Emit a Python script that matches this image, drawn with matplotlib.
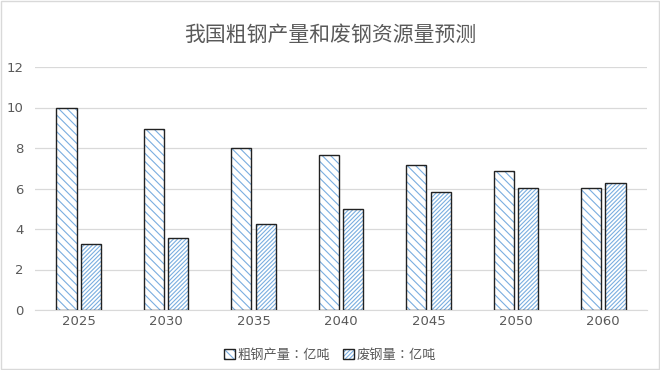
import matplotlib.pyplot as plt
import numpy as np
from matplotlib.patches import Patch

plt.rcParams['font.family'] = ['DejaVu Sans', 'Noto Sans CJK SC']
plt.rcParams['hatch.linewidth'] = 0.8

years = ['2025', '2030', '2035', '2040', '2045', '2050', '2060']
crude = [10.0, 8.95, 8.0, 7.65, 7.17, 6.87, 6.02]
scrap = [3.26, 3.56, 4.25, 5.0, 5.83, 6.02, 6.27]
labels = ['粗钢产量：亿吨', '废钢量：亿吨']

hatch_col = '#7aaee0'
x = np.arange(len(years))
w = 0.23
off = 0.14

fig = plt.figure(figsize=(6.6, 3.7), dpi=100)
ax = fig.add_axes([35/660, 1-310/370, 612/660, 243/370])

for vals, sign, h in [(crude, -1, '\\\\\\\\'), (scrap, 1, '////////')]:
    ax.bar(x + sign*off, vals, w, color='white', edgecolor=hatch_col,
           hatch=h, linewidth=0, zorder=2)
    ax.bar(x + sign*off, vals, w, fill=False, edgecolor='#222222',
           linewidth=1.0, zorder=3)

ax.set_xlim(-0.5, len(years) - 0.5)
ax.set_ylim(0, 12)
ax.set_yticks(range(0, 13, 2))
ax.set_xticks(x)
ax.set_xticklabels(years)
ax.grid(axis='y', color='#d9d9d9', linewidth=0.9, zorder=0)
ax.set_axisbelow(True)
for s in ['top', 'right', 'left']:
    ax.spines[s].set_visible(False)
ax.spines['bottom'].set_color('#d9d9d9')
ax.tick_params(length=0, colors='#595959', labelsize=9.5)
ax.tick_params(axis='y', pad=8)

fig.suptitle('我国粗钢产量和废钢资源量预测', x=0.5, y=0.935, fontsize=15,
             color='#595959', family=['Noto Sans CJK SC', 'DejaVu Sans'])

handles = []
for h in ['\\\\\\\\', '////////']:
    p1 = Patch(facecolor='white', edgecolor=hatch_col, hatch=h, linewidth=0)
    p2 = Patch(fill=False, edgecolor='#222222', linewidth=1.0)
    handles.append((p1, p2))
fig.legend(handles, labels, loc='center', bbox_to_anchor=(0.5, 0.04), ncol=2,
           frameon=False, handlelength=0.8, handleheight=0.8, handletextpad=0.2,
           columnspacing=1.0,
           prop={'family': ['Noto Sans CJK JP', 'DejaVu Sans'], 'size': 9.5},
           labelcolor='#595959')

fig.patches.append(plt.Rectangle((0.002, 0.003), 0.996, 0.994, transform=fig.transFigure,
                                 fill=False, edgecolor='#d9d9d9', linewidth=1))
fig.savefig('out.png', dpi=100)
